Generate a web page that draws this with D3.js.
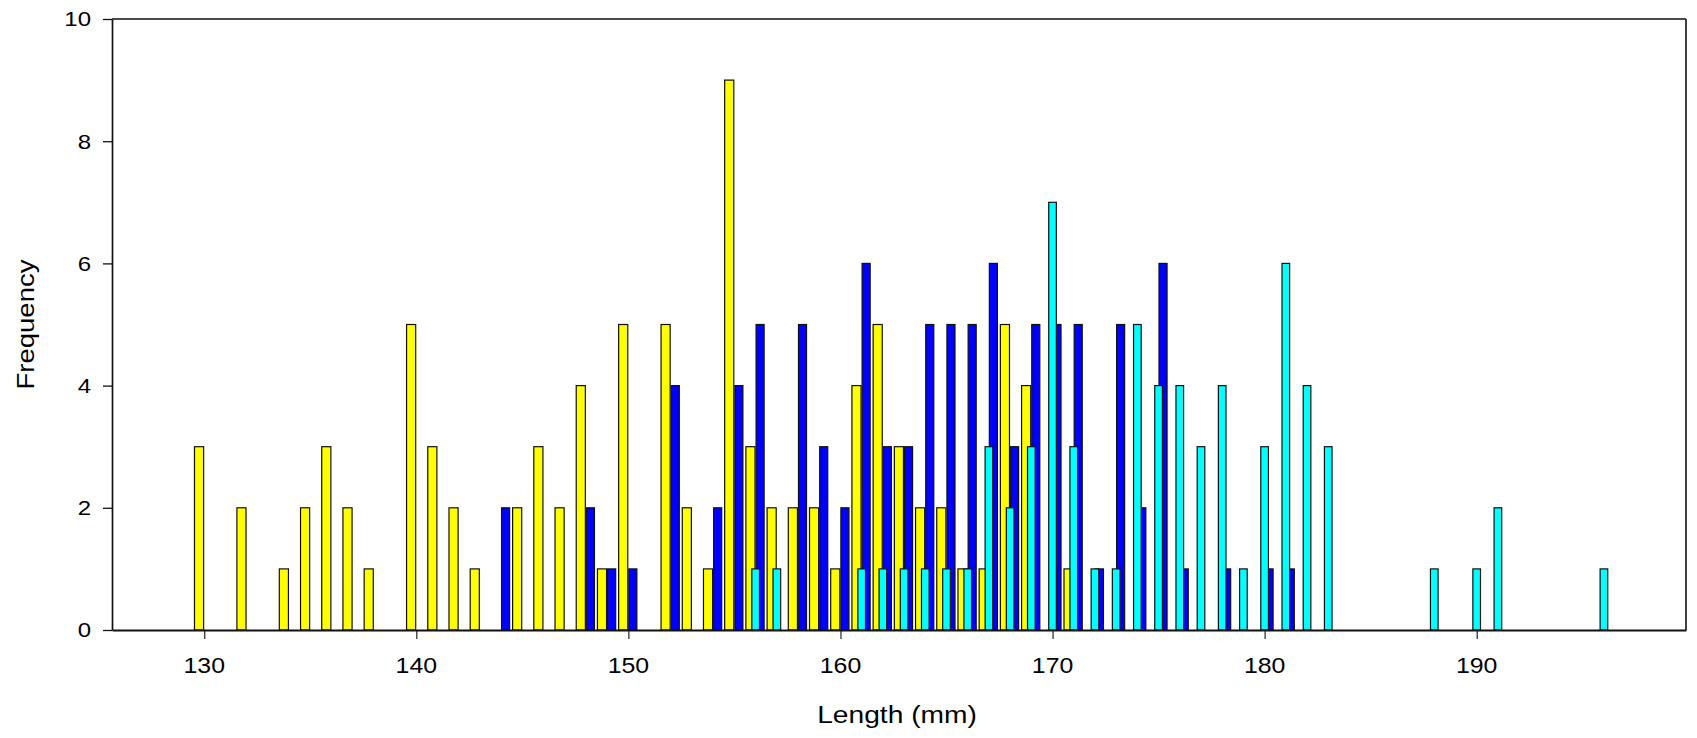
<!DOCTYPE html>
<html>
<head>
<meta charset="utf-8">
<script src="https://cdn.jsdelivr.net/npm/d3@7"></script>
<style>
  html, body { margin: 0; padding: 0; background: #fff; }
  svg { display: block; }
  text { font-family: "Liberation Sans", Arial, sans-serif; fill: #000; }
</style>
</head>
<body>
<div id="chart"></div>
<script>
// ---- Data (length in mm, frequency) ----
const yellowLengths = [130,132,134,135,136,137,138,140,141,142,143,145,146,147,148,149,150,152,153,154,155,156,157,158,159,160,161,162,163,164,165,166,167,168,169,171];
const yellowCounts  = [3,2,1,2,3,2,1,5,3,2,1,2,3,2,4,1,5,5,2,1,9,3,2,2,2,1,4,5,3,2,2,1,1,5,4,1];

const blueLengths = [144,148,149,150,152,154,155,156,158,159,160,161,162,163,164,165,166,167,168,169,170,171,172,173,174,175,176,178,180,181];
const blueCounts  = [2,2,1,1,4,2,4,5,5,3,2,6,3,3,5,5,5,6,3,5,5,5,1,5,2,6,1,1,1,1];

const cyanLengths = [156,157,161,162,163,164,165,166,167,168,169,170,171,172,173,174,175,176,177,178,179,180,181,182,183,188,190,191,196];
const cyanCounts  = [1,1,1,1,1,1,1,1,3,2,3,7,3,1,1,5,4,4,3,4,1,3,6,4,3,1,1,2,1];

const xTicks = [130,140,150,160,170,180,190];
const yTicks = [0,2,4,6,8,10];
const xTitle = "Length (mm)";
const yTitle = "Frequency";

(function () {
// ---- Layout ----
const W = 1697, H = 738;
const pL = 112, pR = 1686, pT = 19, pB = 630;

const svg = d3.select("#chart").append("svg").attr("width", W).attr("height", H);

const x = d3.scaleLinear().domain([125.65, 199.87]).range([pL, pR]);
const y = d3.scaleLinear().domain([0, 10]).range([pB, pT]);

const series = [
  { lengths: yellowLengths, counts: yellowCounts, color: "#FFFF00", lo: -0.46, hi: -0.03 },
  { lengths: blueLengths,   counts: blueCounts,   color: "#0000FF", lo: 0.02,  hi: 0.40 },
  { lengths: cyanLengths,   counts: cyanCounts,   color: "#00FFFF", lo: -0.18, hi: 0.18 }
];

const barsG = svg.append("g");
series.forEach(s => {
  const data = s.lengths.map((v, i) => ({ v, c: s.counts[i] }));
  barsG.append("g").selectAll("rect").data(data).join("rect")
    .attr("x", d => x(d.v + s.lo))
    .attr("width", d => x(d.v + s.hi) - x(d.v + s.lo))
    .attr("y", d => y(d.c))
    .attr("height", d => y(0) - y(d.c))
    .attr("fill", s.color)
    .attr("stroke", "#111")
    .attr("stroke-width", 1.2);
});

// ---- Frame ----
const frame = svg.append("g").attr("stroke", "#111").attr("fill", "none");
frame.append("line").attr("x1", pL).attr("x2", pR).attr("y1", pT).attr("y2", pT).attr("stroke-width", 1.6);
frame.append("line").attr("x1", pR).attr("x2", pR).attr("y1", pT).attr("y2", pB).attr("stroke-width", 1.6);

// ---- Axes ----
const xAxis = d3.axisBottom(x).tickValues(xTicks).tickSize(9).tickSizeOuter(0).tickFormat("");
const xg = svg.append("g").attr("transform", `translate(0,${pB})`).call(xAxis);
xg.select(".domain").attr("stroke", "#111").attr("stroke-width", 2.2);
xg.selectAll(".tick line").attr("stroke", "#111").attr("stroke-width", 1.1);

const yAxis = d3.axisLeft(y).tickValues(yTicks).tickSize(9).tickSizeOuter(0).tickFormat("");
const yg = svg.append("g").attr("transform", `translate(${pL},0)`).call(yAxis);
yg.select(".domain").attr("stroke", "#111").attr("stroke-width", 1.7);
yg.selectAll(".tick line").attr("stroke", "#111").attr("stroke-width", 1.3);

// ---- Tick labels ----
svg.append("g").selectAll("text").data(xTicks).join("text")
  .attr("transform", d => `translate(${x(d)},672.5) scale(1.13,1)`)
  .attr("text-anchor", "middle")
  .attr("font-size", 22)
  .text(d => d);

svg.append("g").selectAll("text").data(yTicks).join("text")
  .attr("transform", d => `translate(91,${y(d) + 7.3}) scale(1.17,1)`)
  .attr("text-anchor", "end")
  .attr("font-size", 20.5)
  .text(d => d);

// ---- Titles ----
svg.append("text")
  .attr("transform", `translate(${(pL + pR) / 2 - 2},722.5) scale(1.15,1)`)
  .attr("text-anchor", "middle")
  .attr("font-size", 24.5)
  .text(xTitle);

svg.append("text")
  .attr("transform", `translate(33.5,${(pT + pB) / 2}) rotate(-90) scale(1.17,1)`)
  .attr("text-anchor", "middle")
  .attr("font-size", 23.5)
  .text(yTitle);
})();
</script>
</body>
</html>
